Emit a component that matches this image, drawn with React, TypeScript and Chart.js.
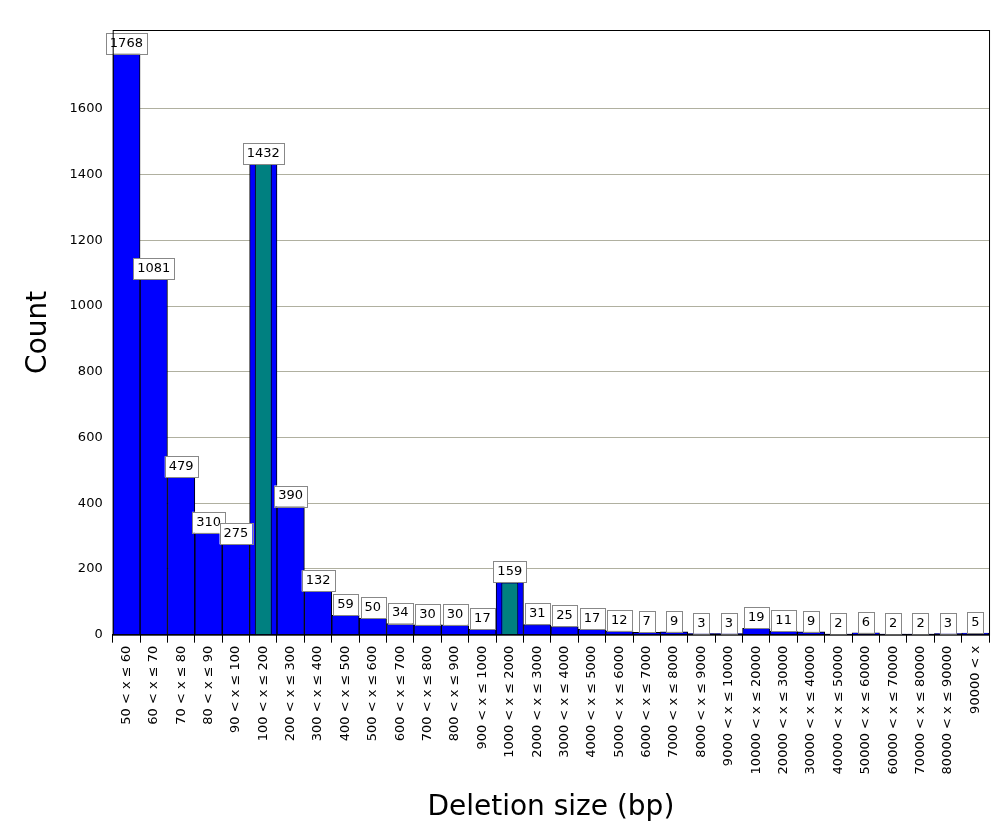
import React, { useEffect, useRef } from "react";
import { Chart, registerables } from "chart.js";
Chart.register(...registerables);

const categories = ["50 < x ≤ 60","60 < x ≤ 70","70 < x ≤ 80","80 < x ≤ 90","90 < x ≤ 100","100 < x ≤ 200","200 < x ≤ 300","300 < x ≤ 400","400 < x ≤ 500","500 < x ≤ 600","600 < x ≤ 700","700 < x ≤ 800","800 < x ≤ 900","900 < x ≤ 1000","1000 < x ≤ 2000","2000 < x ≤ 3000","3000 < x ≤ 4000","4000 < x ≤ 5000","5000 < x ≤ 6000","6000 < x ≤ 7000","7000 < x ≤ 8000","8000 < x ≤ 9000","9000 < x ≤ 10000","10000 < x ≤ 20000","20000 < x ≤ 30000","30000 < x ≤ 40000","40000 < x ≤ 50000","50000 < x ≤ 60000","60000 < x ≤ 70000","70000 < x ≤ 80000","80000 < x ≤ 90000","90000 < x"];
const counts = [1768,1081,479,310,275,1432,390,132,59,50,34,30,30,17,159,31,25,17,12,7,9,3,3,19,11,9,2,6,2,2,3,5];
const highlight = counts.map((v, i) => (i === 5 || i === 14 ? v : null));
const yTicks = [0, 200, 400, 600, 800, 1000, 1200, 1400, 1600];

const FONT = "DejaVu Sans";

const labelPlugin = {
  id: "valueLabels",
  afterDatasetsDraw(chart: any) {
    const ctx = chart.ctx;
    const meta = chart.getDatasetMeta(0);
    ctx.save();
    ctx.font = `13px ${FONT}`;
    ctx.textAlign = "center";
    ctx.textBaseline = "middle";
    meta.data.forEach((bar: any, i: number) => {
      const t = String(counts[i]);
      const w = ctx.measureText(t).width + 8;
      const h = 21;
      const x = bar.x, y = bar.y;
      ctx.fillStyle = "#fff";
      ctx.fillRect(x - w / 2, y - h, w, h);
      ctx.strokeStyle = "#888";
      ctx.lineWidth = 1;
      ctx.strokeRect(Math.round(x - w / 2) + 0.5, Math.round(y - h) + 0.5, Math.round(w), h);
      ctx.fillStyle = "#000";
      ctx.fillText(t, x, y - h / 2);
    });
    const a = chart.chartArea;
    ctx.strokeStyle = "#000";
    ctx.strokeRect(a.left + 0.5, a.top + 0.5, a.right - a.left, a.bottom - a.top);
    ctx.restore();
  },
};

export default function App() {
  const ref = useRef<HTMLCanvasElement>(null);
  useEffect(() => {
    const chart = new Chart(ref.current!, {
      type: "bar",
      data: {
        labels: categories,
        datasets: [
          { data: counts, backgroundColor: "#0000ff", borderColor: "#000", borderWidth: 1, barPercentage: 1, categoryPercentage: 1, grouped: false, order: 2 } as any,
          { data: highlight as any, backgroundColor: "#008080", borderColor: "#000", borderWidth: 1, barPercentage: 0.62, categoryPercentage: 1, grouped: false, order: 1 } as any,
        ],
      },
      options: {
        animation: false,
        responsive: false,
        layout: { padding: { top: 22, right: 4, left: 10, bottom: 0 } },
        plugins: { legend: { display: false }, tooltip: { enabled: false } },
        scales: {
          x: {
            grid: { display: true, drawOnChartArea: false, drawTicks: true, tickLength: 8, color: "#000", offset: true } as any,
            border: { color: "#000" },
            ticks: { color: "#000", font: { family: FONT, size: 13 }, minRotation: 90, maxRotation: 90, autoSkip: false },
            title: { display: true, text: "Deletion size (bp)", color: "#000", font: { family: FONT, size: 28 }, padding: { top: 14, bottom: 0 } },
          },
          y: {
            min: 0, max: 1840,
            afterBuildTicks: (s: any) => { s.ticks = yTicks.map((v) => ({ value: v })); },
            grid: { color: "#b0b0a0", drawTicks: false },
            border: { display: false },
            ticks: { color: "#000", font: { family: FONT, size: 13 }, padding: 10, callback: (v: any) => String(v) },
            title: { display: true, text: "Count", color: "#000", font: { family: FONT, size: 28 } },
          },
        },
      },
      plugins: [labelPlugin],
    });
    return () => chart.destroy();
  }, []);
  return <canvas ref={ref} width={986} height={817} />;
}
